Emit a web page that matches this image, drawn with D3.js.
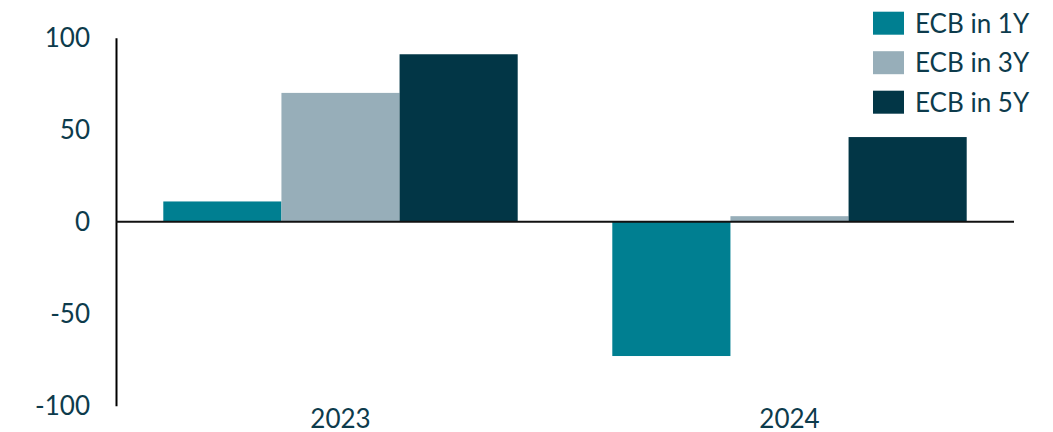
<!DOCTYPE html>
<html>
<head>
<meta charset="utf-8">
<script src="https://cdn.jsdelivr.net/npm/d3@7"></script>
<style>
  body { margin: 0; background: #fff; }
  text { font-family: Lato, "Noto Sans", sans-serif; fill: #0d3b4c; }
</style>
</head>
<body>
<div id="chart"></div>
<script>
// data
const years = ["2023", "2024"];
const seriesNames = ["ECB in 1Y", "ECB in 3Y", "ECB in 5Y"];
const ecb1Y = [11, -73];
const ecb3Y = [70, 3];
const ecb5Y = [91, 46];
const yTicks = [100, 50, 0, -50, -100];

const seriesValues = [ecb1Y, ecb3Y, ecb5Y];
const colors = ["#007f91", "#97aeb9", "#023646"];

const W = 1053, H = 432;
const plotLeft = 116, plotRight = 1014, plotTop = 37.7, plotBottom = 405.7;

const svg = d3.select('#chart')
    .append('svg')
    .attr('width', W)
    .attr('height', H);

// scales
const x0 = d3.scaleBand()
    .domain(years)
    .range([plotLeft, plotRight])
    .padding(0);

const groupPad = 47.3;
const x1 = d3.scaleBand()
    .domain(seriesNames)
    .range([groupPad, x0.bandwidth() - groupPad])
    .padding(0);

const y = d3.scaleLinear()
    .domain([-100, 100])
    .range([plotBottom, plotTop]);

const color = d3.scaleOrdinal().domain(seriesNames).range(colors);

// bars
years.forEach((yr, i) => {
    seriesNames.forEach((s, j) => {
        const v = seriesValues[j][i];
        svg.append('rect')
            .attr('x', x0(yr) + x1(s))
            .attr('y', y(Math.max(0, v)))
            .attr('width', x1.bandwidth())
            .attr('height', Math.abs(y(v) - y(0)))
            .attr('fill', color(s));
    });
});

// y axis (plain hyphen for negatives, like the original)
const yAxis = d3.axisLeft(y)
    .tickValues(yTicks)
    .tickFormat(d => String(d))
    .tickSize(0)
    .tickPadding(26);
const yg = svg.append('g')
    .attr('transform', `translate(${plotLeft},0)`)
    .call(yAxis);
yg.select('.domain').attr('stroke', '#000').attr('stroke-width', 2);
yg.selectAll('text')
    .style('font-size', '26px')
    .attr('fill', '#0d3b4c');

// zero line
svg.append('line')
    .attr('x1', plotLeft)
    .attr('x2', plotRight)
    .attr('y1', y(0))
    .attr('y2', y(0))
    .attr('stroke', '#111')
    .attr('stroke-width', 2);

// x labels
const xAxis = d3.axisBottom(x0).tickSize(0).tickPadding(0);
const xg = svg.append('g')
    .attr('transform', `translate(0,${plotBottom})`)
    .call(xAxis);
xg.select('.domain').remove();
xg.selectAll('text')
    .attr('dy', null)
    .attr('y', 22)
    .style('font-size', '26px')
    .attr('fill', '#0d3b4c');

// legend
const legend = svg.append('g')
    .attr('transform', 'translate(873, 11.7)');

seriesNames.forEach((s, i) => {
    const row = legend.append('g')
        .attr('transform', `translate(0, ${i * 39.5})`);
    row.append('rect')
        .attr('width', 31)
        .attr('height', 23)
        .attr('fill', color(s));
    row.append('text')
        .attr('x', 42)
        .attr('y', 21)
        .style('font-size', '26px')
        .text(s);
});
</script>
</body>
</html>
